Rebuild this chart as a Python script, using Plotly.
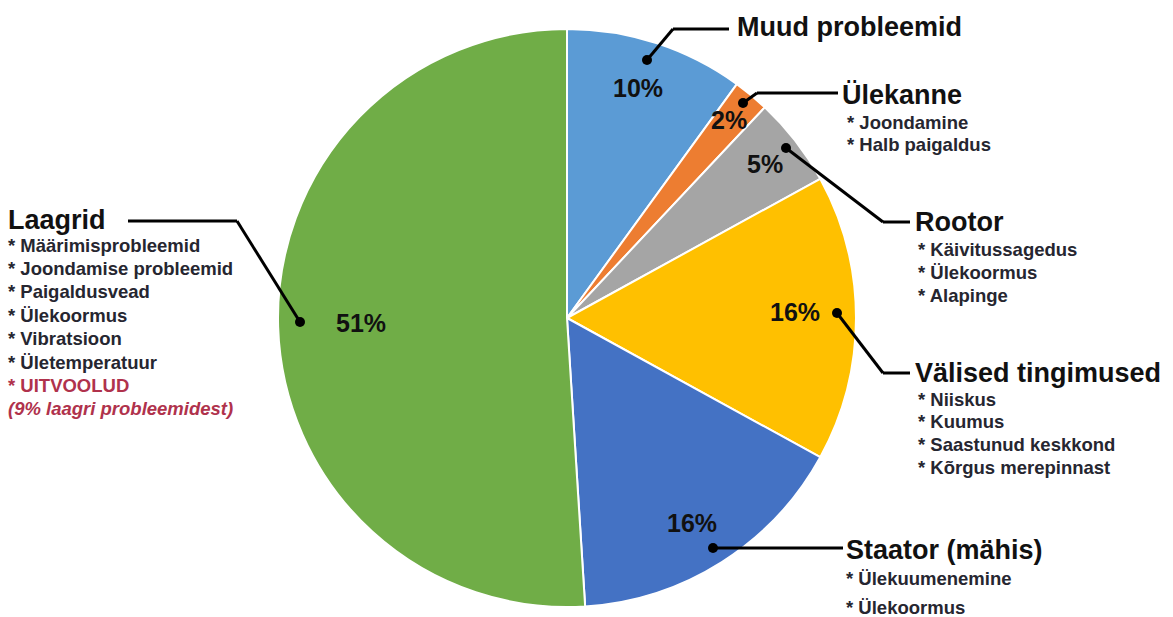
import plotly.graph_objects as go

W, H = 1173, 617

# ---- data ----
categories = ["Muud probleemid", "Ülekanne", "Rootor", "Välised tingimused", "Staator (mähis)", "Laagrid"]
values = [10, 2, 5, 16, 16, 51]
colors = ["#5B9BD5", "#ED7D31", "#A5A5A5", "#FFC000", "#4472C4", "#70AD47"]
sub_items = {
    "Muud probleemid": [],
    "Ülekanne": ["* Joondamine", "* Halb paigaldus"],
    "Rootor": ["* Käivitussagedus", "* Ülekoormus", "* Alapinge"],
    "Välised tingimused": ["* Niiskus", "* Kuumus", "* Saastunud keskkond", "* Kõrgus merepinnast"],
    "Staator (mähis)": ["* Ülekuumenemine", "* Ülekoormus"],
    "Laagrid": ["* Määrimisprobleemid", "* Joondamise probleemid", "* Paigaldusvead",
                "* Ülekoormus", "* Vibratsioon", "* Ületemperatuur"],
}
laagrid_red = ["* UITVOOLUD", "<i>(9% laagri probleemidest)</i>"]

# ---- layout geometry (pixels) ----
pct_pos = {
    "Muud probleemid": (638, 88), "Ülekanne": (729, 120), "Rootor": (765, 164),
    "Välised tingimused": (795, 312), "Staator (mähis)": (692, 523), "Laagrid": (361, 323),
}
leaders = {
    "Muud probleemid": [(647, 60), (673, 29), (729, 29)],
    "Ülekanne": [(743, 103), (757, 93), (838, 93)],
    "Rootor": [(786, 148), (883, 222), (910, 222)],
    "Välised tingimused": [(837, 313), (883, 373), (910, 373)],
    "Staator (mähis)": [(713, 548), (843, 548)],
    "Laagrid": [(300, 322), (237, 221), (128, 221)],
}
heading_pos = {
    "Muud probleemid": (735, 27), "Ülekanne": (840, 95), "Rootor": (913, 222),
    "Välised tingimused": (913, 373), "Staator (mähis)": (844, 550), "Laagrid": (6, 220),
}
sub_pos = {  # x, first line y, spacing
    "Ülekanne": (845, 122, 22), "Rootor": (916, 249, 23), "Välised tingimused": (916, 399, 22.7),
    "Staator (mähis)": (844, 578, 29), "Laagrid": (6, 245, 23.4),
}


def P(x, y):
    return x / W, 1 - y / H


FONT = "Liberation Sans, Arial, sans-serif"

fig = go.Figure(go.Pie(
    labels=categories, values=values, sort=False, direction="clockwise", rotation=0,
    marker=dict(colors=colors, line=dict(color="white", width=2)),
    textinfo="none", hoverinfo="label+percent", showlegend=False,
    domain=dict(x=[278 / W, 856 / W], y=[1 - 607 / H, 1 - 29 / H]),
))

shapes, annotations = [], []
total = sum(values)
for cat, v in zip(categories, values):
    # percentage label
    px, py = P(*pct_pos[cat])
    annotations.append(dict(x=px, y=py, xref="paper", yref="paper", showarrow=False,
                            text=f"<b>{round(100 * v / total)}%</b>",
                            font=dict(family=FONT, size=25, color="#111"),
                            xanchor="center", yanchor="middle"))
    # leader line
    pts = leaders[cat]
    for (x0, y0), (x1, y1) in zip(pts[:-1], pts[1:]):
        a, b = P(x0, y0)
        c, d = P(x1, y1)
        shapes.append(dict(type="line", xref="paper", yref="paper", x0=a, y0=b, x1=c, y1=d,
                           line=dict(color="black", width=3)))
    dx, dy = pts[0]
    r = 5
    shapes.append(dict(type="circle", xref="paper", yref="paper",
                       x0=(dx - r) / W, x1=(dx + r) / W, y0=1 - (dy + r) / H, y1=1 - (dy - r) / H,
                       fillcolor="black", line=dict(color="black", width=0)))
    # heading
    hx, hy = P(*heading_pos[cat])
    annotations.append(dict(x=hx, y=hy, xref="paper", yref="paper", showarrow=False,
                            text=f"<b>{cat}</b>", font=dict(family=FONT, size=27, color="#111"),
                            xanchor="left", yanchor="middle"))
    # sub items
    if cat in sub_pos:
        sx, sy, step = sub_pos[cat]
        lines = [(t, "#262630") for t in sub_items[cat]]
        if cat == "Laagrid":
            lines += [(t, "#B0324C") for t in laagrid_red]
        for i, (t, col) in enumerate(lines):
            ax, ay = P(sx, sy + i * step)
            annotations.append(dict(x=ax, y=ay, xref="paper", yref="paper", showarrow=False,
                                    text=f"<b>{t}</b>", font=dict(family=FONT, size=18.5, color=col),
                                    xanchor="left", yanchor="middle"))

fig.update_layout(width=W, height=H, margin=dict(l=0, r=0, t=0, b=0),
                  paper_bgcolor="white", plot_bgcolor="white",
                  shapes=shapes, annotations=annotations)

fig.write_html("out.html")
